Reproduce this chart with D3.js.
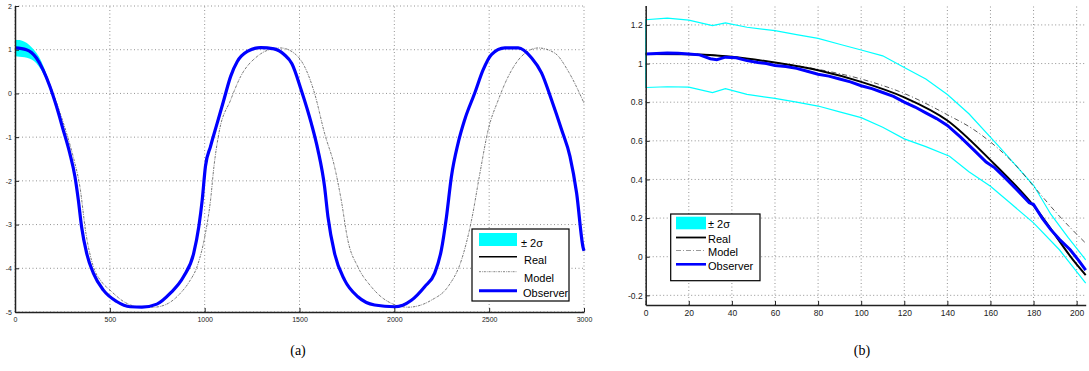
<!DOCTYPE html>
<html>
<head>
<meta charset="utf-8">
<script src="https://cdn.jsdelivr.net/npm/d3@7"></script>
<style>
  body { margin: 0; background: #fff; }
  svg { display: block; }
  text { font-family: "Liberation Sans", Arial, sans-serif; }
</style>
</head>
<body>
<div id="chart"></div>
<script>
// ---- panel (a) ----
const aX = [0, 60, 113, 148, 184, 219, 254, 289, 316, 334, 351, 378, 413, 466, 536, 607, 669, 748, 819, 889, 942, 969, 987, 1004, 1031, 1066, 1101, 1137, 1172, 1225, 1295, 1366, 1419, 1460, 1509, 1562, 1597, 1632, 1650, 1685, 1738, 1808, 1896, 2002, 2090, 2160, 2213, 2248, 2275, 2301, 2336, 2371, 2424, 2468, 2512, 2583, 2653, 2724, 2776, 2829, 2882, 2926, 2961, 2996, 3000];
const aObserver = [1.04, 1.0, 0.81, 0.54, 0.16, -0.30, -0.83, -1.37, -1.90, -2.44, -3.05, -3.66, -4.11, -4.50, -4.76, -4.88, -4.89, -4.82, -4.57, -4.19, -3.66, -3.05, -2.44, -1.67, -1.21, -0.68, -0.15, 0.39, 0.73, 0.96, 1.05, 1.02, 0.89, 0.68, 0.08, -0.68, -1.29, -2.13, -2.82, -3.66, -4.27, -4.65, -4.84, -4.88, -4.73, -4.42, -4.11, -3.58, -2.82, -1.90, -1.14, -0.60, 0.01, 0.54, 0.89, 1.04, 1.04, 0.81, 0.47, -0.15, -0.83, -1.44, -2.28, -3.54, -3.60];
const aReal = aObserver; // hidden under the observer trace

const aModelX = [0, 60, 113, 150, 190, 230, 272, 310, 342, 374, 413, 455, 501, 580, 650, 731, 800, 872, 920, 960, 1004, 1031, 1049, 1075, 1137, 1190, 1278, 1340, 1401, 1472, 1526, 1579, 1632, 1685, 1720, 1755, 1808, 1878, 1966, 2072, 2195, 2283, 2354, 2407, 2451, 2495, 2548, 2601, 2671, 2759, 2847, 2918, 3000];
const aModel = [1.04, 1.0, 0.82, 0.56, 0.14, -0.35, -0.91, -1.50, -2.13, -3.2, -3.96, -4.30, -4.50, -4.78, -4.88, -4.89, -4.82, -4.57, -4.30, -3.96, -3.20, -2.44, -1.67, -0.91, -0.15, 0.39, 0.85, 1.0, 1.04, 0.92, 0.62, 0.01, -0.91, -1.68, -2.44, -3.36, -3.97, -4.42, -4.76, -4.89, -4.73, -4.42, -3.81, -2.90, -1.83, -0.83, -0.15, 0.39, 0.85, 1.04, 0.92, 0.50, -0.22];

const aBandX = [0, 25, 50, 75, 100, 125, 150, 175, 200];
const aBandUp = [1.23, 1.22, 1.18, 1.11, 1.0, 0.85, 0.62, 0.32, -0.02];
const aBandLo = [0.85, 0.84, 0.83, 0.80, 0.74, 0.62, 0.44, 0.20, -0.08];

const aXTicks = [0, 500, 1000, 1500, 2000, 2500, 3000];
const aYTicks = [-5, -4, -3, -2, -1, 0, 1, 2];

// ---- panel (b) ----
const bX = [0, 5, 10, 15, 20, 25, 30, 33, 37, 42, 47, 52, 56, 60, 65, 70, 75, 80, 85, 90, 95, 100, 105, 110, 115, 120, 125, 130, 135, 140, 146, 152, 158, 162, 166, 172, 178, 180, 184, 188, 192, 197, 201, 204.2];
const bObserver = [1.05, 1.052, 1.055, 1.053, 1.05, 1.045, 1.025, 1.02, 1.033, 1.03, 1.015, 1.005, 1.0, 0.99, 0.985, 0.975, 0.96, 0.945, 0.935, 0.92, 0.905, 0.885, 0.87, 0.85, 0.83, 0.80, 0.775, 0.745, 0.715, 0.68, 0.62, 0.556, 0.49, 0.46, 0.417, 0.35, 0.279, 0.27, 0.20, 0.14, 0.09, 0.036, -0.02, -0.07];

const bRealX = [0, 20, 40, 60, 80, 100, 120, 140, 160, 180, 200, 204.2];
const bReal = [1.05, 1.048, 1.035, 1.005, 0.965, 0.905, 0.825, 0.705, 0.50, 0.265, -0.04, -0.095];

const bModelX = [0, 20, 40, 60, 80, 100, 120, 140, 152, 164, 172, 180, 192, 204.2];
const bModel = [1.05, 1.05, 1.035, 1.005, 0.97, 0.92, 0.845, 0.735, 0.66, 0.556, 0.47, 0.365, 0.21, 0.07];

const bUpX = [0, 10, 20, 31, 37, 47, 60, 70, 80, 90, 100, 110, 120, 130, 140, 150, 164, 180, 188, 196, 204.2];
const bUp = [1.227, 1.235, 1.225, 1.196, 1.21, 1.188, 1.17, 1.15, 1.13, 1.10, 1.07, 1.04, 0.98, 0.92, 0.84, 0.74, 0.57, 0.37, 0.22, 0.10, -0.016];
const bLoX = [0, 10, 20, 31, 37, 47, 60, 70, 80, 90, 100, 110, 120, 130, 141, 150, 160, 170, 180, 192, 204.2];
const bLo = [0.876, 0.88, 0.878, 0.85, 0.87, 0.84, 0.82, 0.80, 0.78, 0.75, 0.72, 0.67, 0.61, 0.57, 0.52, 0.44, 0.365, 0.27, 0.175, 0.036, -0.137];

const bXTicks = [0, 20, 40, 60, 80, 100, 120, 140, 160, 180, 200];
const bYTicks = [-0.2, 0, 0.2, 0.4, 0.6, 0.8, 1, 1.2];

const svg = d3.select('#chart').append('svg')
    .attr('width', 1089)
    .attr('height', 371);

function grid(g, x, y, xt, yt) {
    g.selectAll('.gx').data(xt).enter().append('line')
        .attr('x1', d => x(d)).attr('x2', d => x(d))
        .attr('y1', y.range()[0]).attr('y2', y.range()[1])
        .attr('stroke', '#777').attr('stroke-width', 0.8).attr('stroke-dasharray', '1,2.5');
    g.selectAll('.gy').data(yt).enter().append('line')
        .attr('x1', x.range()[0]).attr('x2', x.range()[1])
        .attr('y1', d => y(d)).attr('y2', d => y(d))
        .attr('stroke', '#777').attr('stroke-width', 0.8).attr('stroke-dasharray', '1,2.5');
}

function axes(g, x, y, xt, yt, fs, fmt) {
    let ax = g.append('g')
        .attr('transform', `translate(0, ${y.range()[0]})`)
        .call(d3.axisBottom(x).tickValues(xt).tickSizeInner(-4).tickSizeOuter(0).tickPadding(5).tickFormat(fmt));
    let ay = g.append('g')
        .attr('transform', `translate(${x.range()[0]}, 0)`)
        .call(d3.axisLeft(y).tickValues(yt).tickSizeInner(-4).tickSizeOuter(0).tickPadding(3).tickFormat(fmt));
    [ax, ay].forEach(a => {
        a.select('.domain').attr('stroke', '#222').attr('stroke-width', 1.5);
        a.selectAll('.tick line').attr('stroke', '#222');
        a.selectAll('text').attr('fill', '#222').style('font-size', fs + 'px')
            .style('font-family', '"Liberation Sans", Arial, sans-serif');
    });
    return [ax, ay];
}

function legend(g, x0, y0, w, h, rows, fs) {
    g.append('rect').attr('x', x0).attr('y', y0).attr('width', w).attr('height', h)
        .attr('fill', '#fff').attr('stroke', '#000').attr('stroke-width', 1.2);
    rows.forEach(r => {
        if (r.patch) {
            g.append('rect').attr('x', r.lx1).attr('y', r.ly - r.ph / 2)
                .attr('width', r.lx2 - r.lx1).attr('height', r.ph).attr('fill', '#00ffff');
        } else {
            g.append('line').attr('x1', r.lx1).attr('x2', r.lx2).attr('y1', r.ly).attr('y2', r.ly)
                .attr('stroke', r.color).attr('stroke-width', r.width)
                .attr('stroke-dasharray', r.dash || null);
        }
        g.append('text').attr('x', r.tx).attr('y', r.ty).text(r.label)
            .style('font-size', fs + 'px').attr('fill', '#000');
    });
}

// ================= panel (a) =================
const ga = svg.append('g');
const xa = d3.scaleLinear().domain([0, 3000]).range([15, 584]);
const ya = d3.scaleLinear().domain([-5, 2]).range([312, 6]);

grid(ga, xa, ya, aXTicks, aYTicks);

const bandA = d3.area()
    .x(d => xa(d[0])).y0(d => ya(d[2])).y1(d => ya(d[1]))
    .curve(d3.curveMonotoneX);
ga.append('path')
    .datum(aBandX.map((v, i) => [v, aBandUp[i], aBandLo[i]]))
    .attr('d', bandA).attr('fill', '#00ffff');

const lineA = d3.line().x(d => xa(d[0])).y(d => ya(d[1])).curve(d3.curveMonotoneX);

ga.append('path').datum(aX.map((v, i) => [v, aReal[i]]))
    .attr('d', lineA).attr('fill', 'none').attr('stroke', '#000').attr('stroke-width', 1.5);
ga.append('path').datum(aModelX.map((v, i) => [v, aModel[i]]))
    .attr('d', lineA).attr('fill', 'none').attr('stroke', '#555').attr('stroke-width', 0.8)
    .attr('stroke-dasharray', '2.5,1,0.8,1');
ga.append('path').datum(aX.map((v, i) => [v, aObserver[i]]))
    .attr('d', lineA).attr('fill', 'none').attr('stroke', '#0000ff').attr('stroke-width', 3.2);

axes(ga, xa, ya, aXTicks, aYTicks, 7, d => String(d));

legend(ga, 472, 229, 97, 72, [
    { patch: true, lx1: 479, lx2: 517, ly: 239.5, ph: 13, tx: 521, ty: 247, label: '\u00b1 2\u03c3' },
    { lx1: 479, lx2: 517, ly: 256.7, color: '#000', width: 1.6, tx: 524, ty: 264, label: 'Real' },
    { lx1: 479, lx2: 517, ly: 271.7, color: '#888', width: 1, dash: '2,1,0.8,1', tx: 524, ty: 281.5, label: 'Model' },
    { lx1: 479, lx2: 517, ly: 290.7, color: '#0000ff', width: 3, tx: 523, ty: 297, label: 'Observer' }
], 11);

// ================= panel (b) =================
const gb = svg.append('g');
const xb = d3.scaleLinear().domain([0, 204.2]).range([645.7, 1085.7]);
const yb = d3.scaleLinear().domain([-0.25, 1.3]).range([305, 5.6]);

grid(gb, xb, yb, bXTicks, bYTicks);

const lineB = d3.line().x(d => xb(d[0])).y(d => yb(d[1]));

// confidence bounds, joined by the vertical edge at t = 0
gb.append('path').datum([[0, bLo[0]]].concat(bUpX.map((v, i) => [v, bUp[i]])))
    .attr('d', lineB).attr('fill', 'none').attr('stroke', '#00ffff').attr('stroke-width', 1.2);
gb.append('path').datum(bLoX.map((v, i) => [v, bLo[i]]))
    .attr('d', lineB).attr('fill', 'none').attr('stroke', '#00ffff').attr('stroke-width', 1.2);

gb.append('path').datum(bModelX.map((v, i) => [v, bModel[i]]))
    .attr('d', lineB.curve(d3.curveMonotoneX)).attr('fill', 'none').attr('stroke', '#444')
    .attr('stroke-width', 0.9).attr('stroke-dasharray', '5,2.5,1,2.5');
gb.append('path').datum(bRealX.map((v, i) => [v, bReal[i]]))
    .attr('d', lineB.curve(d3.curveMonotoneX)).attr('fill', 'none').attr('stroke', '#000').attr('stroke-width', 2);
gb.append('path').datum(bX.map((v, i) => [v, bObserver[i]]))
    .attr('d', lineB.curve(d3.curveLinear)).attr('fill', 'none').attr('stroke', '#0000ff').attr('stroke-width', 3);

axes(gb, xb, yb, bXTicks, bYTicks, 8.5, d => String(+d.toFixed(1)));

legend(gb, 670.7, 214, 89.3, 66.7, [
    { patch: true, lx1: 676, lx2: 706, ly: 223, ph: 12.6, tx: 708, ty: 228, label: '\u00b1 2\u03c3' },
    { lx1: 676, lx2: 706, ly: 237.5, color: '#000', width: 1.8, tx: 708, ty: 242.5, label: 'Real' },
    { lx1: 676, lx2: 706, ly: 250.5, color: '#999', width: 1.2, dash: '5,2,1,2', tx: 708, ty: 255.5, label: 'Model' },
    { lx1: 676, lx2: 706, ly: 264.3, color: '#0000ff', width: 2.6, tx: 708, ty: 269.5, label: 'Observer' }
], 11);

// captions
svg.append('text').attr('x', 298).attr('y', 355).attr('text-anchor', 'middle')
    .style('font-family', '"Liberation Serif", "Times New Roman", serif').style('font-size', '14px').text('(a)');
svg.append('text').attr('x', 862).attr('y', 355).attr('text-anchor', 'middle')
    .style('font-family', '"Liberation Serif", "Times New Roman", serif').style('font-size', '14px').text('(b)');
</script>
</body>
</html>
